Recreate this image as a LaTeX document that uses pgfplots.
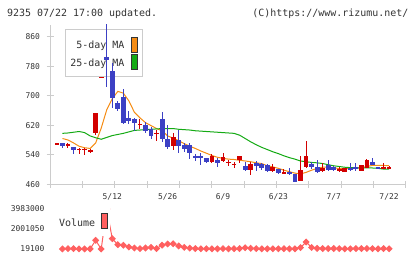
\documentclass[border=0pt]{standalone}
\usepackage{fontspec}
\setmainfont{DejaVu Sans Mono}
\setmonofont{DejaVu Sans Mono}
\usepackage{pgfplots}
\usepackage{pgfplotstable}
\pgfplotsset{compat=1.18}

\definecolor{upRed}{RGB}{210,0,0}
\definecolor{downBlue}{RGB}{60,64,196}
\definecolor{maOrange}{RGB}{245,140,20}
\definecolor{maGreen}{RGB}{20,170,20}
\definecolor{volRed}{RGB}{255,96,96}
\definecolor{axisGray}{RGB}{204,204,204}
\definecolor{textGray}{RGB}{51,51,51}

% daily candles: index, open, high, low, close
\pgfplotstableread{
i o h l c
0 568 571 568 571
2 565 573 559 568
4 554 559 543 556
5 553 558 540 556
6 548 556 546 554
7 598 654 593 654
8 749 752 749 752
15 621 636 609 623
18 597 607 577 600
21 564 600 554 589
28 521 543 518 537
30 524 545 519 533
31 518 526 510 521
32 513 521 504 516
33 525 537 517 536
35 499 521 486 514
39 497 514 494 506
41 490 500 489 493
44 470 536 469 498
45 506 578 505 536
48 496 517 492 505
51 497 506 492 500
52 494 504 492 503
55 497 512 496 512
56 505 528 505 525
59 501 517 500 507
60 501 510 500 507
}\upcandles

\pgfplotstableread{
i o h l c
1 571 571 559 564
3 561 561 543 553
9 806 900 725 797
10 767 788 666 695
11 679 686 659 664
12 696 717 623 627
13 639 659 623 632
14 637 640 605 627
16 620 630 598 605
17 609 616 582 592
19 636 657 575 583
20 583 620 555 562
22 581 607 546 565
23 566 571 548 556
24 566 571 529 545
25 537 542 524 532
26 537 544 513 530
27 531 532 517 519
29 527 530 508 517
34 510 521 495 499
36 517 523 496 509
37 516 517 498 503
38 512 516 494 497
40 500 501 489 490
42 494 503 485 488
43 488 489 466 467
46 514 521 500 508
47 507 527 490 494
49 512 525 497 499
50 507 509 497 499
53 503 517 497 501
54 506 517 497 501
57 521 531 511 512
58 507 508 500 501
}\downcandles

% 5-day moving average
\pgfplotstableread{
i v
1 584
2 580
3 572
4 563
5 559
6 557
7 572
8 612
9 662
10 692
11 712
12 707
13 686
14 655
15 640
16 627
17 619
18 611
19 605
20 591
21 585
22 578
23 570
24 563
25 557
26 550
27 544
28 538
29 533
30 530
31 528
32 527
33 525
34 523
35 521
36 518
37 516
38 510
39 507
40 503
41 498
42 494
43 490
44 488
45 492
46 498
47 503
48 506
49 506
50 505
51 502
52 503
53 502
54 503
55 505
56 508
57 511
58 511
59 511
60 510
}\maFive

% 25-day moving average
\pgfplotstableread{
i v
1 598
2 599
3 601
4 603
5 600
6 591
7 586
8 582
9 587
10 592
11 595
12 598
13 602
14 606
15 607
16 608
17 609
18 610
19 611
20 611
21 611
22 609
23 608
24 607
25 605
26 604
27 603
28 602
29 601
30 600
31 599
32 598
33 593
34 584
35 575
36 567
37 560
38 554
39 548
40 543
41 537
42 532
43 528
44 523
45 521
46 519
47 518
48 516
49 513
50 510
51 508
52 506
53 505
54 505
55 504
56 504
57 504
58 503
59 501
60 501
}\maTwentyFive

% daily volume
\pgfplotstableread{
i v
1 25000
2 60000
3 60000
4 30000
5 30000
6 30000
7 880000
8 19100
9 3983000
10 1040000
11 445000
12 390000
13 220000
14 120000
15 60000
16 120000
17 185000
18 60000
19 400000
20 520000
21 540000
22 320000
23 180000
24 110000
25 60000
26 40000
27 50000
28 40000
29 40000
30 60000
31 40000
32 50000
33 60000
34 140000
35 90000
36 60000
37 40000
38 40000
39 40000
40 40000
41 50000
42 40000
43 40000
44 160000
45 713000
46 170000
47 80000
48 60000
49 60000
50 70000
51 60000
52 40000
53 40000
54 60000
55 60000
56 70000
57 60000
58 40000
59 60000
60 40000
}\volume

\pgfplotsset{
  wick/.style={draw=none, forget plot,
    error bars/.cd, y dir=both, y explicit, error mark=none,
    error bar style={draw=#1, line width=1bp, solid}},
  body/.style={draw=none, forget plot,
    error bars/.cd, y dir=both, y explicit, error mark=none,
    error bar style={draw=#1, line width=4.8bp, solid, line cap=butt}},
}

\begin{document}
\begin{tikzpicture}
\path[use as bounding box] (0bp,0bp) rectangle (420bp,259bp);

% header line
\node[anchor=base west, inner sep=0pt, font=\fontsize{10}{12}\selectfont, text=textGray] at (7bp,242.3bp) {9235 07/22 17:00 updated.};
\node[anchor=base east, inner sep=0pt, font=\fontsize{10}{12}\selectfont, text=textGray] at (408.5bp,242.3bp) {(C)https://www.rizumu.net/};

% price legend (sits behind the candles)
\draw[axisGray, fill=white, line width=1bp] (65.5bp,182bp) rectangle (142.5bp,229bp);
\node[anchor=east, inner sep=0pt, font=\fontsize{10}{12}\selectfont, text=textGray] at (124.5bp,213bp) {5-day MA};
\node[anchor=east, inner sep=0pt, font=\fontsize{10}{12}\selectfont, text=textGray] at (124.5bp,195.7bp) {25-day MA};
\draw[textGray, fill=maOrange, line width=0.8bp] (131bp,206.7bp) rectangle (137.3bp,221.7bp);
\draw[textGray, fill=maGreen, line width=0.8bp] (131bp,189.7bp) rectangle (137.3bp,204.7bp);

% price panel
\begin{axis}[
  at={(50bp,74.8bp)}, anchor=south west, scale only axis,
  width=355.7bp, height=159.2bp,
  xmin=-1.25, xmax=63, ymin=460, ymax=892,
  axis x line=bottom, axis y line=left,
  axis line style={axisGray, line width=1bp, -},
  xtick={-1.25,4.591,10.432,16.273,22.114,27.955,33.795,39.636,45.477,51.318,57.159,63},
  xticklabels={},
  extra x ticks={10,20,30,40,50,60},
  extra x tick labels={5/12,5/26,6/9,6/23,7/7,7/22},
  extra x tick style={major tick length=0pt, tick label style={yshift=-6bp}},
  ytick={460,540,620,700,780,860},
  yticklabels={460,540,620,700,780,860},
  yticklabel style={xshift=-3bp},
  tick style={axisGray, line width=1bp},
  major tick length=7bp,
  tick align=center,
  ticklabel style={font=\fontsize{8}{9}\selectfont, text=textGray},
  /pgf/number format/assume math mode=true,
]
\addplot[maOrange, line width=1bp, mark=none] table[x=i, y=v] {\maFive};
\addplot[maGreen, line width=1bp, mark=none] table[x=i, y=v] {\maTwentyFive};

\addplot[wick=upRed] table[x=i, y expr={(\thisrow{h}+\thisrow{l})/2}, y error expr={(\thisrow{h}-\thisrow{l})/2}] {\upcandles};
\addplot[body=upRed] table[x=i, y expr={(\thisrow{o}+\thisrow{c})/2}, y error expr={abs(\thisrow{c}-\thisrow{o})/2}] {\upcandles};
\addplot[wick=downBlue] table[x=i, y expr={(\thisrow{h}+\thisrow{l})/2}, y error expr={(\thisrow{h}-\thisrow{l})/2}] {\downcandles};
\addplot[body=downBlue] table[x=i, y expr={(\thisrow{o}+\thisrow{c})/2}, y error expr={abs(\thisrow{c}-\thisrow{o})/2}] {\downcandles};
\end{axis}

% volume panel
\begin{axis}[
  at={(50bp,8bp)}, anchor=south west, scale only axis,
  width=355.7bp, height=44bp,
  xmin=-1.25, xmax=63, ymin=-179000, ymax=4181000,
  axis line style={draw=none},
  xtick=\empty,
  ytick={19100,2001050,3983000},
  yticklabels={19100,2001050,3983000},
  scaled y ticks=false,
  major tick length=0pt,
  tick style={draw=none},
  ticklabel style={font=\fontsize{8}{9}\selectfont, text=textGray},
  yticklabel style={xshift=-2bp},
  clip=false,
]
\addplot[volRed, line width=1bp, mark=square*, mark size=2bp,
  mark options={rotate=45, solid, fill=volRed}] table[x=i, y=v] {\volume};
\end{axis}

% volume legend
\fill[white] (53bp,23bp) rectangle (110bp,55bp);
\node[anchor=west, inner sep=0pt, font=\fontsize{10}{12}\selectfont, text=textGray] at (59bp,36.7bp) {Volume};
\draw[textGray, fill=volRed, line width=0.8bp] (101bp,30.7bp) rectangle (107.7bp,45.7bp);
\end{tikzpicture}
\end{document}
